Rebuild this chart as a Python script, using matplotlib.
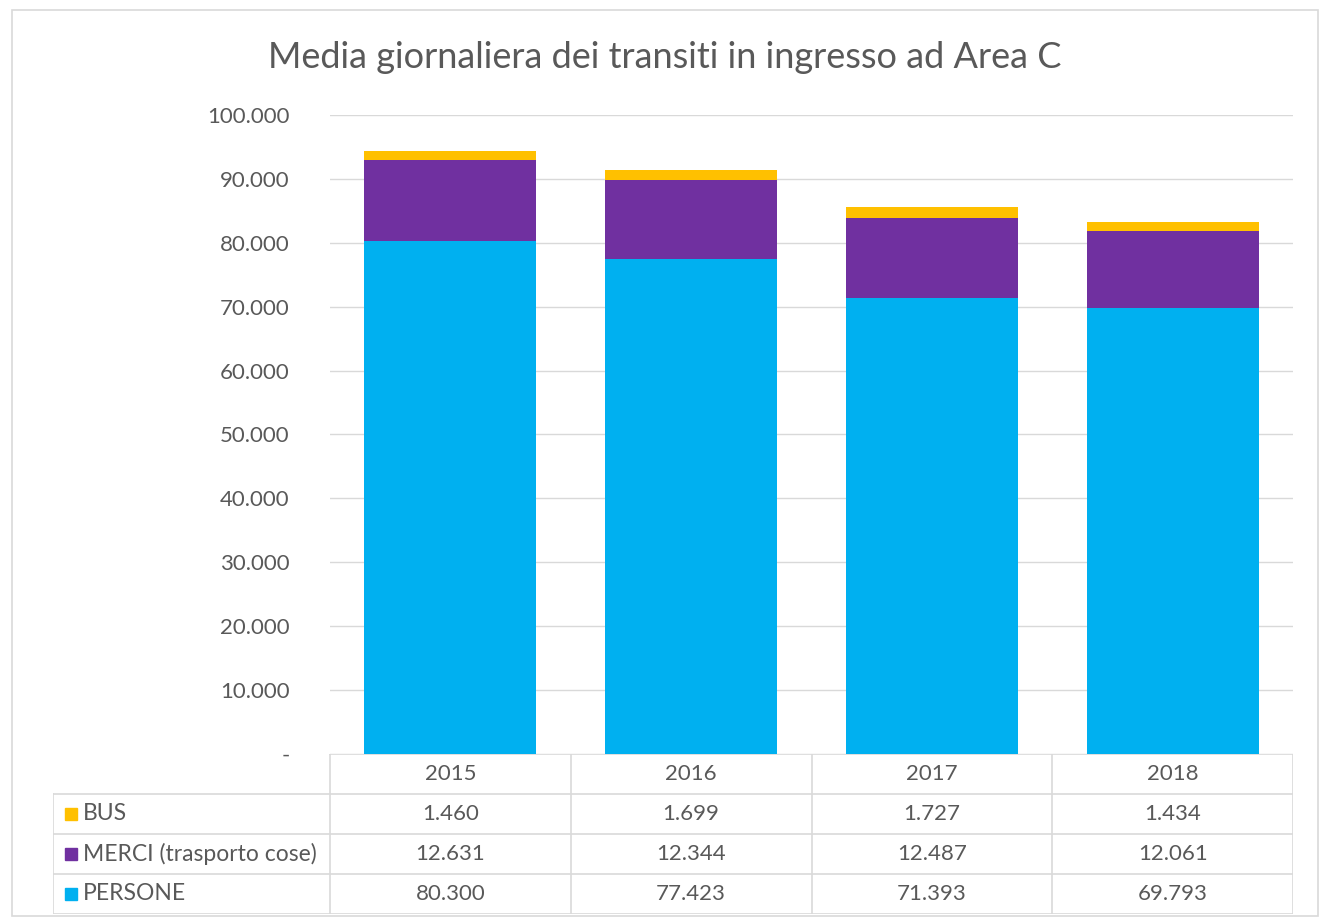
import numpy as np
import matplotlib
matplotlib.use("Agg")
import matplotlib.pyplot as plt
from matplotlib.patches import Rectangle
from matplotlib.ticker import FuncFormatter

# Data
years = ["2015", "2016", "2017", "2018"]
persone = [80300, 77423, 71393, 69793]
merci = [12631, 12344, 12487, 12061]
bus = [1460, 1699, 1727, 1434]
series_names = ["BUS", "MERCI (trasporto cose)", "PERSONE"]
colors = {"BUS": "#FFC000", "MERCI (trasporto cose)": "#7030A0", "PERSONE": "#00B0F0"}

W, H = 1323, 923
plt.rcParams["font.family"] = ["Lato", "DejaVu Sans"]
txt = "#595959"
grid = "#d9d9d9"

fig = plt.figure(figsize=(W / 100, H / 100), dpi=100)

# outer frame
fig.patches.append(Rectangle((12 / W, 1 - 916 / H), (1318 - 12) / W, (916 - 10) / H,
                             transform=fig.transFigure, fill=False, edgecolor=grid, lw=1.2))

fig.text(665 / W, 1 - 58 / H, "Media giornaliera dei transiti in ingresso ad Area C",
         ha="center", va="center", fontsize=26, color=txt)

# main chart
ax = fig.add_axes([330 / W, 1 - 754 / H, (1293 - 330) / W, (754 - 115) / H])
x = np.arange(len(years))
bw = 0.715
ax.bar(x, persone, bw, color=colors["PERSONE"], zorder=3)
ax.bar(x, merci, bw, bottom=persone, color=colors["MERCI (trasporto cose)"], zorder=3)
ax.bar(x, bus, bw, bottom=np.add(persone, merci), color=colors["BUS"], zorder=3)
ax.set_xlim(-0.5, 3.5)
ax.set_ylim(0, 100000)
ax.set_yticks(np.arange(0, 100001, 10000))


def fmt(v, pos):
    if v == 0:
        return "-"
    return f"{int(v):,}".replace(",", ".")


ax.yaxis.set_major_formatter(FuncFormatter(fmt))
ax.tick_params(axis="y", length=0, pad=29, labelsize=16, labelcolor=txt)
ax.set_xticks([])
ax.grid(axis="y", color=grid, lw=1, zorder=0)
for s in ax.spines.values():
    s.set_visible(False)

# data table
left = -0.5 - (330 - 53) / 240.75
tab = fig.add_axes([53 / W, 1 - 914 / H, (1293 - 53) / W, 160 / H])
tab.set_xlim(left, 3.5)
tab.set_ylim(3.5, -0.5)
tab.axis("off")
lc = dict(color=grid, lw=1.2)
for xv in np.arange(-0.5, 3.6, 1):
    tab.plot([xv, xv], [-0.5, 3.5], **lc)
tab.plot([left, left], [0.5, 3.5], **lc)
tab.plot([-0.5, 3.5], [-0.5, -0.5], **lc)
for yv in [0.5, 1.5, 2.5, 3.5]:
    tab.plot([left, 3.5], [yv, yv], **lc)

for i, yr in enumerate(years):
    tab.text(i, 0, yr, ha="center", va="center", fontsize=16, color=txt)

rows = {"BUS": bus, "MERCI (trasporto cose)": merci, "PERSONE": persone}
for r, name in enumerate(series_names, start=1):
    tab.plot(left + 0.075, r, marker="s", ms=8, color=colors[name], ls="none")
    tab.text(left + 0.125, r, name, ha="left", va="center", fontsize=16.5, color=txt)
    for i, v in enumerate(rows[name]):
        tab.text(i, r, fmt(v, None), ha="center", va="center", fontsize=16, color=txt)

fig.savefig("out.png", dpi=100)
